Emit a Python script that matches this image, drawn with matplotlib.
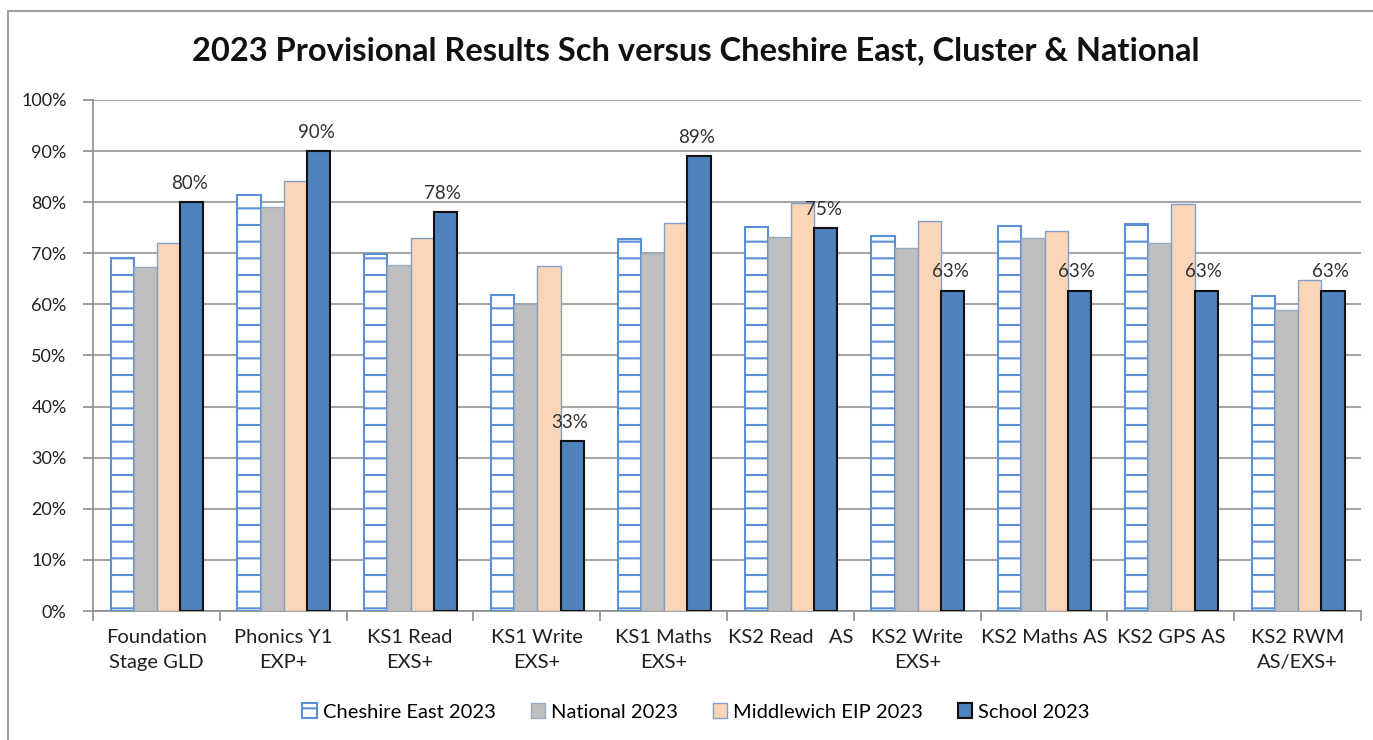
import matplotlib
matplotlib.use("Agg")
import matplotlib.pyplot as plt
import numpy as np
from matplotlib.patches import Rectangle

plt.rcParams['font.family'] = ['Lato', 'DejaVu Sans']
plt.rcParams['hatch.linewidth'] = 1.5

categories = ["Foundation\nStage GLD", "Phonics Y1\nEXP+", "KS1 Read\nEXS+", "KS1 Write\nEXS+",
              "KS1 Maths\nEXS+", "KS2 Read   AS", "KS2 Write\nEXS+", "KS2 Maths AS",
              "KS2 GPS AS", "KS2 RWM\nAS/EXS+"]
cheshire_east = [69.1, 81.5, 69.8, 61.8, 72.7, 75.1, 73.4, 75.4, 75.7, 61.7]
national = [67.3, 79.1, 67.8, 60.0, 70.0, 73.1, 71.0, 73.0, 72.1, 59.0]
middlewich = [72.0, 84.1, 73.0, 67.6, 76.0, 79.8, 76.3, 74.4, 79.7, 64.7]
school = [80.0, 90.0, 78.0, 33.3, 89.0, 75.0, 62.7, 62.7, 62.7, 62.7]
school_labels = ["80%", "90%", "78%", "33%", "89%", "75%", "63%", "63%", "63%", "63%"]
series_names = ["Cheshire East 2023", "National 2023", "Middlewich EIP 2023", "School 2023"]
yticks = [0, 10, 20, 30, 40, 50, 60, 70, 80, 90, 100]

fig = plt.figure(figsize=(13.73, 7.40), dpi=100)
ax = fig.add_axes([0.0677, 0.1743, 0.9236, 0.6906])

x = np.arange(len(categories))
w = 0.183
offs = np.array([-1.5, -0.5, 0.5, 1.5]) * w + 0.005

blue = "#4F81BD"
ax.bar(x + offs[0], cheshire_east, w, facecolor="white", edgecolor="#5B8FD6",
       hatch="-", linewidth=1.5, label=series_names[0], zorder=3)
ax.bar(x + offs[1], national, w, facecolor="#BFBFBF", edgecolor="#9BA9C0",
       linewidth=1.0, label=series_names[1], zorder=3)
ax.bar(x + offs[2], middlewich, w, facecolor="#FBD5B5", edgecolor="#7F9FD0",
       linewidth=1.0, label=series_names[2], zorder=3)
ax.bar(x + offs[3], school, w, facecolor=blue, edgecolor="#111111",
       linewidth=1.5, label=series_names[3], zorder=3)

for xi, v, lab in zip(x + offs[3], school, school_labels):
    ax.text(xi - 0.02, v + 2.0, lab, ha="center", va="bottom", fontsize=13.5,
            color="#303030", zorder=4)

ax.set_xlim(-0.5, len(categories) - 0.5)
ax.set_ylim(0, 100)
ax.set_yticks(yticks)
ax.set_yticklabels([f"{t}%" for t in yticks], fontsize=13, color="#202020")
ax.set_xticks(x)
ax.set_xticklabels(categories, fontsize=14.5, color="#202020", linespacing=1.6)
ax.tick_params(axis="x", length=0, pad=13)
ax.tick_params(axis="y", length=7, color="#8C8C8C", width=1.2, pad=12)
ax.set_xticks(np.arange(-0.5, len(categories), 1.0), minor=True)
ax.tick_params(axis="x", which="minor", length=7, color="#8C8C8C", width=1.2)
ax.grid(axis="y", color="#A6A6A6", linewidth=1.5, zorder=0)
for s in ["top", "right"]:
    ax.spines[s].set_visible(False)
for s in ["left", "bottom"]:
    ax.spines[s].set_color("#8C8C8C")
    ax.spines[s].set_linewidth(1.2)

fig.text(0.507, 0.932, "2023 Provisional Results Sch versus Cheshire East, Cluster & National",
         ha="center", va="center", fontsize=23.5, fontweight="bold", color="#111111")

fig.legend(loc="center", bbox_to_anchor=(0.507, 0.038), ncol=4, frameon=False,
           fontsize=14.5, handlelength=0.7, handleheight=0.8, handletextpad=0.3,
           columnspacing=1.75)

fig.patches.append(Rectangle((8 / 1373, -0.01), 1.1, 1 - 11 / 740 + 0.01,
                             transform=fig.transFigure, fill=False,
                             edgecolor="#A0A0A0", linewidth=1.5))

fig.savefig("out.png", dpi=100)
